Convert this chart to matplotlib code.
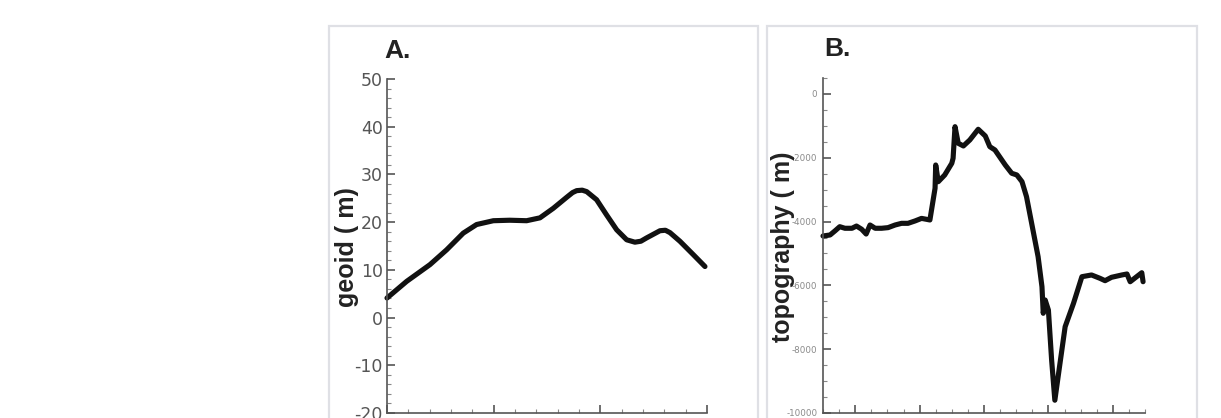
import matplotlib
matplotlib.use("Agg")
import matplotlib.pyplot as plt
from matplotlib.patches import Rectangle
from matplotlib.ticker import MultipleLocator

plt.rcParams['axes.unicode_minus'] = False

# ---- Panel A: geoid profile ----
geoid_x = [0, 185, 403, 559, 715, 840, 997, 1150, 1309, 1434, 1559, 1684, 1740, 1778,
           1830, 1872, 1965, 2059, 2153, 2247, 2324, 2380, 2434, 2559, 2610, 2653, 2746,
           2871, 2981]
geoid_y = [4.1, 7.6, 11.1, 14.2, 17.7, 19.5, 20.3, 20.4, 20.3, 20.9, 22.9, 25.2, 26.2,
           26.6, 26.7, 26.4, 24.7, 21.5, 18.4, 16.3, 15.8, 16.0, 16.7, 18.2, 18.3, 17.8,
           16.0, 13.2, 10.7]
geoid_yticks = [-20, -10, 0, 10, 20, 30, 40, 50]

# ---- Panel B: topography profile ----
topo_x = [-50, -39, -31, -24, -16, -5, 2, 10, 17, 23, 31, 41, 51, 62, 72, 82, 93, 103,
          111, 116, 124, 125, 129, 139, 150, 152, 155, 160, 168, 178, 191, 202, 209,
          217, 233, 243, 251, 259, 266, 274, 284, 290, 292, 295, 300, 305, 310, 318,
          326, 339, 352, 367, 380, 388, 398, 414, 422, 427, 437, 445, 447]
topo_y = [-4452, -4420, -4285, -4160, -4210, -4210, -4140, -4240, -4390, -4107, -4210,
          -4210, -4190, -4107, -4055, -4055, -3980, -3900, -3930, -3950, -2956, -2226,
          -2750, -2540, -2173, -2016, -1025, -1546, -1630, -1442, -1107, -1317, -1652,
          -1756, -2226, -2486, -2539, -2749, -3220, -4054, -5100, -6041, -6875, -6458,
          -6772, -8339, -9600, -8443, -7295, -6562, -5728, -5674, -5778, -5853, -5747,
          -5674, -5643, -5885, -5728, -5603, -5885]
topo_yticks = [-10000, -8000, -6000, -4000, -2000, 0]

W, H = 1221, 418
fig = plt.figure(figsize=(W / 100, H / 100), dpi=100)

def fx(px):
    return px / W

def fy(py):
    return 1 - py / H

bold = ['Liberation Sans', 'DejaVu Sans']

# Frames
for x0, x1 in [(329, 758), (767, 1197)]:
    fig.patches.append(Rectangle((fx(x0), fy(440)), fx(x1) - fx(x0), fy(26) - fy(440),
                                 transform=fig.transFigure, fill=False,
                                 edgecolor='#dfe0e5', linewidth=1.6, zorder=-5))

spine_col = '#555555'

def style(ax):
    for s in ['top', 'right']:
        ax.spines[s].set_visible(False)
    for s in ['left', 'bottom']:
        ax.spines[s].set_color(spine_col)
        ax.spines[s].set_linewidth(1.2)

# Axes A
axA = fig.add_axes([fx(387), fy(413), fx(707) - fx(387), fy(79) - fy(413)])
axA.plot(geoid_x, geoid_y, color='#111111', lw=3.7, solid_joinstyle='round',
         solid_capstyle='round', clip_on=False)
axA.set_xlim(0, 3000)
axA.set_ylim(-20, 50)
axA.set_yticks(geoid_yticks)
axA.yaxis.set_minor_locator(MultipleLocator(2))
axA.set_xticks([0, 1000, 2000, 3000])
axA.xaxis.set_minor_locator(MultipleLocator(200))
axA.set_xticklabels([])
axA.tick_params(axis='both', which='major', direction='in', length=6, width=1.2,
                color=spine_col, labelsize=12.5, labelcolor='#555555', pad=3)
axA.tick_params(axis='both', which='minor', direction='in', length=3, width=0.8,
                color='#888888')
style(axA)

# Axes B
axB = fig.add_axes([fx(823), fy(413), fx(1145) - fx(823), fy(78) - fy(413)])
axB.plot(topo_x, topo_y, color='#111111', lw=3.7, solid_joinstyle='round',
         solid_capstyle='round', clip_on=False)
axB.set_xlim(-50, 450)
axB.set_ylim(-10000, 500)
axB.set_yticks(topo_yticks)
axB.yaxis.set_minor_locator(MultipleLocator(500))
axB.set_xticks([0, 100, 200, 300, 400])
axB.xaxis.set_minor_locator(MultipleLocator(25))
axB.set_xticklabels([])
axB.tick_params(axis='both', which='major', direction='in', length=6, width=1.2,
                color=spine_col, labelsize=6.3, labelcolor='#8a8a8a', pad=4)
axB.tick_params(axis='both', which='minor', direction='in', length=3, width=0.8,
                color='#888888')
style(axB)

# Y labels as figure text (centered at reference positions)
fig.text(fx(347), fy(247), 'geoid ( m)', rotation=90, fontsize=18, fontweight='bold',
         family=bold, color='#222222', ha='center', va='center')
fig.text(fx(783), fy(247), 'topography ( m)', rotation=90, fontsize=18,
         fontweight='bold', family=bold, color='#222222', ha='center', va='center')

# Panel letters
fig.text(fx(384), fy(51), 'A.', fontsize=19, fontweight='bold', family=bold,
         color='#222222', ha='left', va='center')
fig.text(fx(824), fy(49), 'B.', fontsize=19, fontweight='bold', family=bold,
         color='#222222', ha='left', va='center')

fig.savefig('out.png', dpi=100)
